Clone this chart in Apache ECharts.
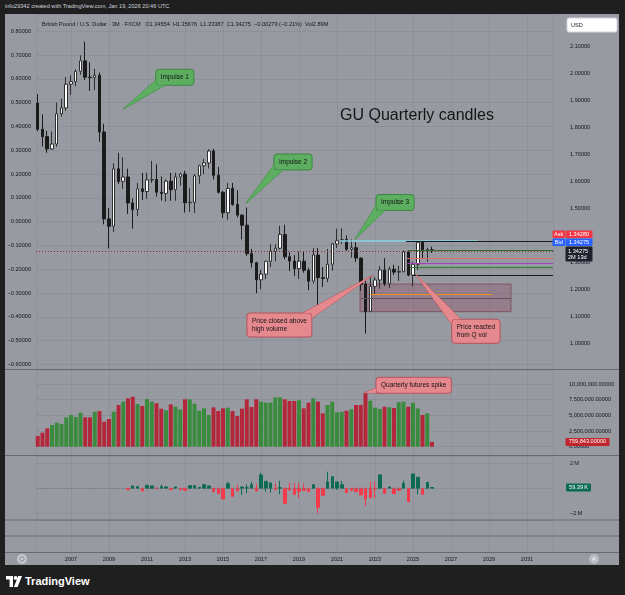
<!DOCTYPE html>
<html>
<head>
<meta charset="utf-8">
<title>GU Quarterly candles</title>
<script src="https://cdn.jsdelivr.net/npm/echarts@6.0.0/dist/echarts.min.js"></script>
<style>
  html, body { margin: 0; width: 625px; height: 595px; background: #1f1f1f; overflow: hidden; }
  body { position: relative; font-family: "Liberation Sans", Arial, sans-serif; }
  #hdr { position: absolute; left: 5px; top: 3px; font-size: 5.6px; color: #d1d4dc; white-space: nowrap; }
  #chart { position: absolute; left: 5px; top: 14px; width: 614px; height: 551px; }
  #brand { position: absolute; left: 6px; top: 575px; display: flex; align-items: center; gap: 3px; color: #fff; font-size: 11px; font-weight: bold; }
</style>
</head>
<body>
<div id="hdr">info29342 created with TradingView.com, Jan 19, 2026 20:46 UTC</div>
<div id="chart"></div>
<div id="brand">
  <svg width="16" height="11" viewBox="0 0 16 11"><path d="M0 0H7V11H3.6V3.6H0Z" fill="#fff"/><circle cx="9.6" cy="1.9" r="1.9" fill="#fff"/><path d="M12.2 0H16L11.6 11H7.9Z" fill="#fff"/></svg>
  <span>TradingView</span>
</div>
<script>
// 季度标签：2005 Q2 ~ 2026 Q1
const quarters = (() => {
  const out = []
  for (let n = 1; n <= 84; n++) out.push(`${2005 + Math.floor(n / 4)} Q${(n % 4) + 1}`)
  return out
})()

const open = [
  1.8885, 1.7917, 1.7644, 1.7188, 1.7370, 1.8490, 1.8705, 1.9585, 1.9680, 2.0065,
  2.0450, 1.9845, 1.9830, 1.9915, 1.7815, 1.4595, 1.4325, 1.6450, 1.5985, 1.6150,
  1.5185, 1.4945, 1.5710, 1.5610, 1.6040, 1.6055, 1.5585, 1.5540, 1.5995, 1.5680,
  1.6150, 1.6255, 1.5195, 1.5210, 1.6190, 1.6565, 1.6670, 1.7110, 1.6210, 1.5580,
  1.4822, 1.5725, 1.5125, 1.4736, 1.4365, 1.3310, 1.2975, 1.2340, 1.2550, 1.3025,
  1.3400, 1.3510, 1.4020, 1.3195, 1.3035, 1.2755, 1.3030, 1.2695, 1.2290, 1.3260,
  1.2420, 1.2395, 1.2920, 1.3670, 1.3785, 1.3830, 1.3470, 1.3530, 1.3145, 1.2180,
  1.1165, 1.2095, 1.2335, 1.2705, 1.2200, 1.2730, 1.2625, 1.2645, 1.3375, 1.2515,
  1.2915, 1.3730, 1.3450, 1.34554
]
const close = [
  1.7917, 1.7644, 1.7188, 1.7370, 1.8490, 1.8705, 1.9585, 1.9680, 2.0065, 2.0450,
  1.9845, 1.9830, 1.9915, 1.7815, 1.4595, 1.4325, 1.6450, 1.5985, 1.6150, 1.5185,
  1.4945, 1.5710, 1.5610, 1.6040, 1.6055, 1.5585, 1.5540, 1.5995, 1.5680, 1.6150,
  1.6255, 1.5195, 1.5210, 1.6190, 1.6565, 1.6670, 1.7110, 1.6210, 1.5580, 1.4822,
  1.5725, 1.5125, 1.4736, 1.4365, 1.3310, 1.2975, 1.2340, 1.2550, 1.3025, 1.3400,
  1.3510, 1.4020, 1.3195, 1.3035, 1.2755, 1.3030, 1.2695, 1.2290, 1.3260, 1.2420,
  1.2395, 1.2920, 1.3670, 1.3785, 1.3830, 1.3470, 1.3530, 1.3145, 1.2180, 1.1165,
  1.2095, 1.2335, 1.2705, 1.2200, 1.2730, 1.2625, 1.2645, 1.3375, 1.2515, 1.2915,
  1.3730, 1.3450, 1.34554, 1.34275
]
const high = [
  1.9217, 1.8470, 1.7859, 1.7835, 1.8905, 1.9048, 1.9849, 1.9915, 2.0133, 2.0655,
  2.1161, 2.0397, 2.0155, 2.0019, 1.8120, 1.5002, 1.6660, 1.7043, 1.6877, 1.6458,
  1.5355, 1.5930, 1.6299, 1.6303, 1.6747, 1.6618, 1.6166, 1.6062, 1.6301, 1.6309,
  1.6308, 1.6380, 1.5752, 1.6260, 1.6603, 1.6823, 1.7180, 1.7192, 1.6525, 1.5630,
  1.5930, 1.5930, 1.5659, 1.4769, 1.5018, 1.3481, 1.2990, 1.2706, 1.3048, 1.3658,
  1.3657, 1.4345, 1.4377, 1.3363, 1.3258, 1.3381, 1.3383, 1.2784, 1.3515, 1.3515,
  1.2813, 1.3483, 1.3703, 1.4237, 1.4250, 1.3984, 1.3835, 1.3749, 1.3167, 1.2293,
  1.2446, 1.2447, 1.2848, 1.3142, 1.2827, 1.2894, 1.2860, 1.3434, 1.3434, 1.3014,
  1.3789, 1.3789, 1.3527, 1.35676
]
const low = [
  1.7850, 1.7280, 1.7043, 1.7149, 1.7268, 1.8385, 1.8600, 1.9185, 1.9510, 1.9935,
  1.9743, 1.9338, 1.9365, 1.7450, 1.4395, 1.3503, 1.4112, 1.5893, 1.5708, 1.4781,
  1.4230, 1.4706, 1.5296, 1.5343, 1.5934, 1.5422, 1.5273, 1.5234, 1.5268, 1.5268,
  1.5827, 1.4831, 1.4855, 1.4814, 1.5895, 1.6252, 1.6460, 1.6052, 1.5540, 1.4633,
  1.4564, 1.5087, 1.4657, 1.3836, 1.3229, 1.2796, 1.1841, 1.1988, 1.2366, 1.2812,
  1.3027, 1.3458, 1.3101, 1.2662, 1.2477, 1.2372, 1.2605, 1.1959, 1.2205, 1.1409,
  1.2076, 1.2252, 1.2676, 1.3521, 1.3669, 1.3413, 1.3161, 1.3001, 1.1933, 1.0350,
  1.1144, 1.1803, 1.2010, 1.2111, 1.2037, 1.2518, 1.2300, 1.2615, 1.2475, 1.2100,
  1.2708, 1.3142, 1.3010, 1.33387
]
// 成交量（百万）
const volume = [
  1.71, 2.23, 2.93, 3.46, 3.83, 3.62, 4.69, 5.06, 4.74, 5.42,
  4.69, 4.69, 5.58, 5.69, 3.99, 4.42, 5.58, 6.65, 7.18, 7.72,
  7.97, 6.81, 6.49, 7.61, 7.18, 6.92, 6.06, 5.81, 6.76, 6.38,
  5.96, 7.56, 7.56, 6.86, 5.74, 6.12, 5.06, 6.28, 5.69, 6.12,
  6.22, 5.69, 4.90, 6.06, 7.56, 6.33, 7.56, 7.18, 7.02, 7.02,
  7.88, 7.88, 7.56, 7.29, 7.29, 7.40, 6.12, 7.02, 7.72, 7.18,
  5.33, 6.65, 7.18, 5.49, 5.58, 5.74, 5.96, 6.65, 6.65, 8.52,
  7.34, 6.22, 6.01, 6.38, 6.28, 6.17, 7.08, 7.18, 6.38, 7.02,
  6.12, 5.06, 5.33, 0.759843
]
// 下方指标（百万），从 2010 Q1 开始，开盘 = 0
const deltaStart = '2010 Q1'
const deltaClose = [
  -0.11, 0.19, 0.13, -0.21, 0.24, 0.19, -0.03, 0.13, 0.11, -0.11,
  0.11, -0.11, -0.16, 0.21, 0.21, 0.08, 0.29, 0.19, -0.27, -0.43,
  -0.85, 0.37, -0.64, -0.21, 0.11, 0.05, 0.29, -0.21, 1.07, 0.56,
  0.43, -0.11, 0.05, -1.20, -0.13, -0.48, -0.24, -0.16, -0.27, 0.29,
  -1.52, -0.56, 0.53, 0.93, 0.51, 0.29, -0.35, -0.19, -0.27, -0.53,
  -0.85, -0.75, -0.05, 1.07, -0.40, 0.11, -0.43, -0.16, 0.40, -1.07,
  1.15, 0.88, -0.48, 0.48, 0.05939
]
const deltaHigh = [
  0, 0.19, 0.13, 0, 0.24, 0.19, 0.10, 0.29, 0.11, 0,
  0.11, 0, 0, 0.21, 0.21, 0.08, 0.29, 0.19, 0, 0,
  0, 0.51, 0, 0.29, 0.11, 0.32, 0.51, 0.37, 1.25, 0.56,
  0.43, 0.40, 0.59, 0, 0.45, 0.40, 0.45, 0.37, 0, 0.29,
  0, 0, 1.33, 0.93, 0.51, 0.59, 0, 0, 0, 0,
  0, 0.53, 0.53, 1.07, 0, 0.11, 0, 0, 0.61, 0,
  1.15, 0.88, 0, 0.48, 0.06
]
const deltaLow = [
  -0.11, 0, 0, -0.21, 0, 0, -0.05, 0, 0, -0.11,
  0, -0.11, -0.16, 0, 0, 0, 0, 0, -0.27, -0.43,
  -0.85, 0, -0.64, -0.21, -0.53, -0.40, 0, -0.21, 0, -0.27,
  -0.35, -0.11, -0.48, -1.20, -0.13, -0.48, -0.80, -0.16, -0.27, 0,
  -2.00, -0.56, 0, 0, -0.13, 0, -0.35, -0.19, -0.27, -0.53,
  -1.41, -0.75, -0.80, 0, -0.40, 0, -0.43, -0.16, 0, -1.07,
  0, -0.48, -0.48, 0, 0
]
// 画线：价位、起止年份（null = 延伸到右边）
const levelPrices = [1.3789, 1.3752, 1.3433, 1.3130, 1.2952, 1.2815, 1.2519, 1.1804, 1.1672]
const levelFrom   = [2021.16, 2024.63, 2024.75, 2024.68, 2024.72, 2024.85, 2024.95, 2022.74, 2022.21]
const levelTo     = [2028.42, null, null, null, null, null, null, 2029.14, 2030.16]
const levelColors = ['#86d4e4', '#1c1c1c', '#2f6f33', '#e06a6f', '#a445b8', '#2f7d34', '#1c1c1c', '#f5921b', '#5d5760']
const zone = { from: 2022.21, to: 2030.16, top: 1.2185, bottom: 1.1159 }
const askPrice = 1.34280, bidPrice = 1.34275

const notes = [
  { text: 'Impulse 1', tip: [2009.75, 1.8667], box: [2011.46, 2.0137], pane: 'main', tone: 'green' },
  { text: 'Impulse 2', tip: [2016.21, 1.5174], box: [2017.68, 1.7000], pane: 'main', tone: 'green' },
  { text: 'Impulse 3', tip: [2021.95, 1.3841], box: [2023.05, 1.5500], pane: 'main', tone: 'green' },
  { text: 'Price closed above\nhigh volume', tip: [2022.91, 1.2519], box: [2016.26, 1.1111], pane: 'main', tone: 'red' },
  { text: 'Price reacted\nfrom Q vol', tip: [2025.14, 1.2544], box: [2027.04, 1.0878], pane: 'main', tone: 'red' },
  { text: 'Quarterly futures spike', tip: [2022.45, 8.61], box: [2023.05, 11.07], pane: 'vol', tone: 'red' }
]

const EPOCH = 2001 // 让两年一格的刻度落在奇数年
const yx = y => y - EPOCH
const qx = label => { const [y, q] = label.split(' Q').map(Number); return y + (q - 1) / 4 - EPOCH }
const X_MIN = yx(2005.158), X_MAX = yx(2032.368)

const FONT = '"Liberation Sans", Arial, sans-serif'
const TXT = '#131722'
const GRID_LINE = 'rgba(60,64,76,0.10)'
const UP = '#3b8b3f', DOWN = '#b2283a'
const onStep = (v, s) => Math.abs(v / s - Math.round(v / s)) < 1e-6
const tvNum = v => (v < -1e-9 ? '\u2212' : '') + Math.abs(v).toFixed(5)

const chart = echarts.init(document.getElementById('chart'))

const lastClose = close[close.length - 1]
const prevClose = close[close.length - 2]
const chg = lastClose - prevClose

const xBase = {
  type: 'value', min: X_MIN, max: X_MAX, minInterval: 2, maxInterval: 2,
  axisLine: { show: false }, axisTick: { show: false },
  axisLabel: { show: false },
  splitLine: { show: true, lineStyle: { color: GRID_LINE } }
}
const gridBase = { left: 31, right: 66, outerBoundsMode: 'none', containLabel: false }
const labelBase = { fontSize: 5.6, color: TXT, fontFamily: FONT }

const dI = quarters.indexOf(deltaStart)

chart.setOption({
  animation: false,
  backgroundColor: '#989aa2',
  textStyle: { fontFamily: FONT },
  grid: [
    { ...gridBase, top: 0, height: 355 },
    { ...gridBase, top: 356, height: 85 },
    { ...gridBase, top: 442, height: 64 },
    { ...gridBase, top: 506, height: 32 }
  ],
  xAxis: [
    { ...xBase, gridIndex: 0 },
    { ...xBase, gridIndex: 1 },
    { ...xBase, gridIndex: 2 },
    { ...xBase, gridIndex: 3,
      axisLabel: { ...labelBase, show: true, margin: 4,
        formatter: v => onStep(v, 2) ? String(Math.round(v) + EPOCH) : '' } }
  ],
  yAxis: [
    { gridIndex: 0, type: 'value', position: 'right', min: 0.90370, max: 2.21852,
      minInterval: 0.1, maxInterval: 0.1,
      axisLine: { show: false }, axisTick: { show: false }, splitLine: { show: false },
      axisLabel: { ...labelBase, margin: 17, formatter: v => onStep(v, 0.1) && v < 2.15 ? tvNum(v) : '' } },
    { gridIndex: 0, type: 'value', position: 'left', min: -0.61865, max: 0.87232,
      minInterval: 0.1, maxInterval: 0.1,
      axisLine: { show: false }, axisTick: { show: false },
      splitLine: { show: true, lineStyle: { color: GRID_LINE } },
      axisLabel: { ...labelBase, margin: 5, formatter: v => onStep(v, 0.1) && v < 0.85 ? tvNum(v) : '' } },
    { gridIndex: 1, type: 'value', position: 'right', min: -1.324, max: 12.233,
      minInterval: 2.5, maxInterval: 2.5,
      axisLine: { show: false }, axisTick: { show: false },
      splitLine: { show: true, lineStyle: { color: GRID_LINE } },
      axisLabel: { ...labelBase, margin: 16,
        formatter: v => onStep(v, 2.5) && v > -1e-9 ? Math.round(v * 1e6).toLocaleString('en-US') + '.00000' : '' } },
    { gridIndex: 2, type: 'value', position: 'right', min: -2.536, max: 2.584,
      minInterval: 2, maxInterval: 2,
      axisLine: { show: false }, axisTick: { show: false },
      splitLine: { show: true, lineStyle: { color: GRID_LINE } },
      axisLabel: { ...labelBase, margin: 17,
        formatter: v => onStep(v, 2) && Math.abs(v) > 1e-9 ? (v < 0 ? '\u2212' : '') + Math.abs(Math.round(v)) + '\u2009M' : '' } },
    { gridIndex: 3, type: 'value', show: false, min: 0, max: 1 }
  ],
  series: [
    {
      name: 'GBPUSD', type: 'candlestick', xAxisIndex: 0, yAxisIndex: 0, barWidth: 3,
      data: quarters.map((q, i) => [qx(q), open[i], close[i], low[i], high[i]]),
      itemStyle: { color: '#ffffff', color0: '#1b1b1b', borderColor: '#2f2f2f', borderColor0: '#1b1b1b', borderWidth: 1 },
      markArea: {
        silent: true,
        itemStyle: { color: 'rgba(140,55,78,0.28)', borderColor: 'rgba(115,50,65,0.6)', borderWidth: 1 },
        data: [[{ coord: [yx(zone.from), zone.top] }, { coord: [yx(zone.to), zone.bottom] }]]
      },
      markLine: {
        silent: true, symbol: 'none', label: { show: false },
        data: [
          ...levelPrices.map((p, k) => [
            { coord: [yx(levelFrom[k]), p], lineStyle: { color: levelColors[k], width: k === 0 ? 1.5 : 1, type: 'solid' } },
            { coord: [levelTo[k] == null ? X_MAX : yx(levelTo[k]), p] }
          ]),
          { yAxis: lastClose, lineStyle: { color: '#8e2c3a', width: 1, type: [1, 2] } }
        ]
      }
    },
    {
      name: 'Volume', type: 'bar', xAxisIndex: 1, yAxisIndex: 2, barWidth: 4,
      data: quarters.map((q, i) => ({
        value: [qx(q), volume[i]],
        itemStyle: { color: close[i] >= open[i] ? UP : DOWN }
      }))
    },
    {
      name: 'Delta', type: 'candlestick', xAxisIndex: 2, yAxisIndex: 3, barWidth: 3,
      data: deltaClose.map((c, k) => [qx(quarters[dI + k]), 0, c, deltaLow[k], deltaHigh[k]]),
      itemStyle: { color: '#0e6b53', color0: '#f23a4b', borderColor: '#0e6b53', borderColor0: '#f23a4b', borderWidth: 1 },
      markLine: {
        silent: true, symbol: 'none', label: { show: false },
        lineStyle: { color: '#6f727a', width: 1, type: [1, 2] },
        data: [[{ coord: [qx(quarters[0]), 0] }, { coord: [qx(quarters[quarters.length - 1]), 0] }]]
      }
    }
  ]
})

// ---- 注释与标签（用坐标换算成像素） ----
const paneAxes = { main: [0, 0], vol: [1, 2], delta: [2, 3] }
const toPx = (pane, x, y) => chart.convertToPixel({ xAxisIndex: paneAxes[pane][0], yAxisIndex: paneAxes[pane][1] }, [x, y])
const measure = (() => {
  const ctx = document.createElement('canvas').getContext('2d')
  return (text, size) => { ctx.font = `${size}px ${FONT}`; return ctx.measureText(text).width }
})()

const NOTE_FONT = 6.5, LINE_H = 8, PAD_X = 5, PAD_Y = 4
const tones = {
  green: { fill: '#5dae61', stroke: '#3c8740' },
  red: { fill: '#e5898e', stroke: '#b5535b' }
}

function callout(n) {
  const [tx, ty] = toPx(n.pane, yx(n.tip[0]), n.tip[1])
  const [bx, by] = toPx(n.pane, yx(n.box[0]), n.box[1])
  const lines = n.text.split('\n')
  const w = Math.max(...lines.map(l => measure(l, NOTE_FONT))) + 2 * PAD_X
  const h = lines.length * LINE_H + 2 * PAD_Y
  const left = tx < bx + w / 2, below = ty > by + h / 2
  const cx = left ? bx : bx + w, cy = below ? by + h : by
  const p1 = [cx + (left ? 9 : -9), cy]
  const p2 = [cx, cy + (below ? -5 : 5)]
  const c = tones[n.tone]
  return [
    { type: 'polygon', z: 20, silent: true, shape: { points: [p1, [tx, ty], p2] }, style: { fill: c.fill, stroke: c.stroke, lineWidth: 1 } },
    { type: 'rect', z: 21, silent: true, shape: { x: bx, y: by, width: w, height: h, r: 3 }, style: { fill: c.fill, stroke: c.stroke, lineWidth: 1 } },
    { type: 'polygon', z: 22, silent: true, shape: { points: [p1, [tx, ty], p2, [cx, cy]] }, style: { fill: c.fill } },
    { type: 'text', z: 23, silent: true, style: { text: n.text, x: bx + PAD_X, y: by + PAD_Y, fill: '#141414', fontSize: NOTE_FONT, fontFamily: FONT, lineHeight: LINE_H, verticalAlign: 'top' } }
  ]
}

function tag(x, y, w, h, fill, text, color = '#ffffff', align = 'center') {
  return [
    { type: 'rect', z: 30, silent: true, shape: { x, y, width: w, height: h, r: 1 }, style: { fill } },
    { type: 'text', z: 31, silent: true, style: { text, x: align === 'center' ? x + w / 2 : x + 3, y: y + h / 2, align, verticalAlign: 'middle', fill: color, fontSize: 5.6, fontFamily: FONT } }
  ]
}

const seps = [355.5, 441.5, 506, 522, 538.5].map(y => ({
  type: 'line', z: 15, silent: true, shape: { x1: 0, y1: y, x2: 614, y2: y }, style: { stroke: '#676a73', lineWidth: 1 }
}))

const [, pyLast] = toPx('main', X_MIN, lastClose)
const [, pyVol] = toPx('vol', X_MIN, volume[volume.length - 1])
const [, pyDelta] = toPx('delta', X_MIN, deltaClose[deltaClose.length - 1])
const pct = chg / prevClose * 100
const sgn = v => (v < 0 ? '\u2212' : '+') + Math.abs(v)
const title = `British Pound / U.S. Dollar \u00b7 3M \u00b7 FXCM   O${open.at(-1).toFixed(5)}  H${high.at(-1).toFixed(5)}  L${low.at(-1).toFixed(5)}  C${lastClose.toFixed(5)}  ${sgn(+chg.toFixed(5)).replace('+', '')} (${(pct < 0 ? '\u2212' : '+') + Math.abs(pct).toFixed(2)}%)  Vol2.89M`

chart.setOption({
  graphic: [
    ...seps,
    { type: 'text', z: 25, silent: true, style: { text: title, x: 37, y: 10.5, verticalAlign: 'middle', fill: TXT, fontSize: 5.6, fontFamily: FONT } },
    { type: 'text', z: 25, silent: true, style: { text: 'GU Quarterly candles', x: 412, y: 102, align: 'center', verticalAlign: 'middle', fill: '#151515', fontSize: 16, fontFamily: FONT } },
    { type: 'rect', z: 25, silent: true, shape: { x: 562, y: 4, width: 50, height: 14, r: 2 }, style: { fill: '#ffffff', stroke: '#d4d6db' } },
    { type: 'text', z: 26, silent: true, style: { text: 'USD', x: 566, y: 11, verticalAlign: 'middle', fill: TXT, fontSize: 5.6, fontFamily: FONT } },
    ...notes.flatMap(callout),
    ...tag(547.5, pyLast - 20, 12.5, 7.5, '#f23645', 'Ask'),
    ...tag(560.5, pyLast - 20, 27, 7.5, '#f23645', askPrice.toFixed(5)),
    ...tag(547.5, pyLast - 12, 12.5, 7.5, '#2962ff', 'Bid'),
    ...tag(560.5, pyLast - 12, 27, 7.5, '#2962ff', bidPrice.toFixed(5)),
    { type: 'rect', z: 30, silent: true, shape: { x: 560.5, y: pyLast - 4, width: 27, height: 15, r: 1 }, style: { fill: '#1e222d' } },
    { type: 'text', z: 31, silent: true, style: { text: lastClose.toFixed(5) + '\n2M 13d', x: 563, y: pyLast - 2.5, verticalAlign: 'top', lineHeight: 6.5, fill: '#ffffff', fontSize: 5.6, fontFamily: FONT } },
    ...tag(560.5, pyVol - 4, 44, 8, '#c1262e', Math.round(volume.at(-1) * 1e6).toLocaleString('en-US') + '.00000'),
    ...tag(561, pyDelta - 4, 25, 8, '#0b6b53', (deltaClose.at(-1) * 1000).toFixed(2) + '\u2009K'),
    { type: 'circle', z: 25, silent: true, shape: { cx: 17, cy: 545, r: 5 }, style: { fill: '#c6c8ce' } },
    { type: 'circle', z: 26, silent: true, shape: { cx: 17, cy: 545, r: 2.2 }, style: { fill: 'none', stroke: '#8c8f97', lineWidth: 1 } },
    { type: 'circle', z: 25, silent: true, shape: { cx: 589, cy: 545, r: 5 }, style: { fill: '#b9bbc2' } },
    { type: 'text', z: 26, silent: true, style: { text: 'A', x: 589, y: 545.5, align: 'center', verticalAlign: 'middle', fill: '#ffffff', fontSize: 6, fontFamily: FONT } }
  ]
})
</script>
</body>
</html>
